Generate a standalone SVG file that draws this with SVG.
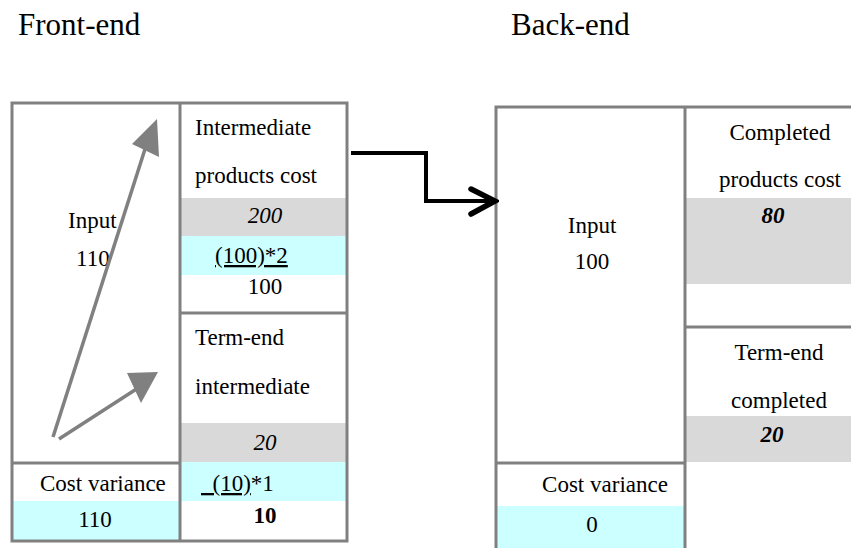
<svg xmlns="http://www.w3.org/2000/svg" width="851" height="548" viewBox="0 0 851 548">
<style>
  .t { font-family: "Liberation Serif", "Times New Roman", serif; font-size: 23px; fill: #000; }
  .h { font-family: "Liberation Serif", "Times New Roman", serif; font-size: 31px; fill: #000; }
  .c { text-anchor: middle; }
  .i { font-style: italic; }
  .b { font-weight: bold; }
  .gray { fill: #d9d9d9; }
  .cyan { fill: #ccffff; }
  .bd { stroke: #808080; stroke-width: 3; fill: none; }
  .ga { stroke: #808080; stroke-width: 3.5; fill: none; }
  .gh { fill: #808080; }
  .conn { stroke: #000; stroke-width: 4; fill: none; }
</style>
<defs>
  <marker id="chev" markerUnits="userSpaceOnUse" markerWidth="36" markerHeight="36" viewBox="-32 -18 36 36" refX="0" refY="0" orient="auto">
    <path d="M-24,-12 L0,0 L-24,13" fill="none" stroke="#000" stroke-width="5.5" stroke-linecap="round" stroke-linejoin="miter"/>
  </marker>
</defs>
<rect width="851" height="548" fill="#fff"/>

<g id="headers">
  <text class="h" x="18" y="35">Front-end</text>
  <text class="h" x="511" y="35">Back-end</text>
</g>

<g id="front-end">
  <rect class="gray" x="181" y="198" width="166" height="38"/>
  <rect class="cyan" x="181" y="236" width="166" height="39"/>
  <rect class="gray" x="181" y="423" width="166" height="39"/>
  <rect class="cyan" x="181" y="462" width="166" height="39"/>
  <rect class="cyan" x="13" y="501" width="166" height="40"/>
  <rect class="bd" x="12" y="103" width="335" height="438"/>
  <line class="bd" x1="180" y1="103" x2="180" y2="541"/>
  <line class="bd" x1="180" y1="313" x2="347" y2="313"/>
  <line class="bd" x1="12" y1="463" x2="180" y2="463"/>

  <g id="fe-input">
    <text class="t" x="68" y="228">Input</text>
    <text class="t" x="76" y="266">110</text>
  </g>
  <g id="fe-arrows">
    <line class="ga" x1="53" y1="437" x2="146" y2="146"/>
    <polygon class="gh" points="157,119 132,144 159,157"/>
    <line class="ga" x1="59" y1="439" x2="138" y2="388"/>
    <polygon class="gh" points="127,373 158,372 141,403"/>
  </g>
  <g id="fe-intermediate">
    <text class="t" x="195" y="135">Intermediate</text>
    <text class="t" x="195" y="183">products cost</text>
    <text class="t c i" x="265" y="223">200</text>
    <text class="t" x="215" y="263" text-decoration="underline">(100)*2</text>
    <text class="t c" x="265" y="294">100</text>
  </g>
  <g id="fe-termend">
    <text class="t" x="195" y="345">Term-end</text>
    <text class="t" x="195" y="394">intermediate</text>
    <text class="t c i" x="265" y="450">20</text>
    <text class="t" x="201" y="491" xml:space="preserve"><tspan text-decoration="underline">  (10)</tspan>*1</text>
    <text class="t c b" x="265" y="523">10</text>
  </g>
  <g id="fe-variance">
    <text class="t" x="40" y="491">Cost variance</text>
    <text class="t c" x="95" y="527">110</text>
  </g>
</g>

<g id="back-end">
  <rect class="gray" x="686" y="198" width="165" height="86"/>
  <rect class="gray" x="686" y="416" width="165" height="46"/>
  <rect class="cyan" x="497" y="506" width="187" height="42"/>
  <polyline class="bd" points="496,550 496,107 851,107"/>
  <line class="bd" x1="685" y1="107" x2="685" y2="550"/>
  <line class="bd" x1="685" y1="327" x2="851" y2="327"/>
  <line class="bd" x1="496" y1="463" x2="685" y2="463"/>

  <g id="be-input">
    <text class="t c" x="592" y="233">Input</text>
    <text class="t c" x="592" y="269">100</text>
  </g>
  <g id="be-completed">
    <text class="t c" x="780" y="140">Completed</text>
    <text class="t c" x="780" y="187">products cost</text>
    <text class="t c b i" x="773" y="223">80</text>
  </g>
  <g id="be-termend">
    <text class="t c" x="779" y="360">Term-end</text>
    <text class="t c" x="779" y="408">completed</text>
    <text class="t c b i" x="772" y="442">20</text>
  </g>
  <g id="be-variance">
    <text class="t c" x="605" y="492">Cost variance</text>
    <text class="t c" x="592" y="532">0</text>
  </g>
</g>

<g id="connectors">
  <polyline class="conn" points="351,153 426,153 426,201 495,201" marker-end="url(#chev)"/>
</g>
</svg>
